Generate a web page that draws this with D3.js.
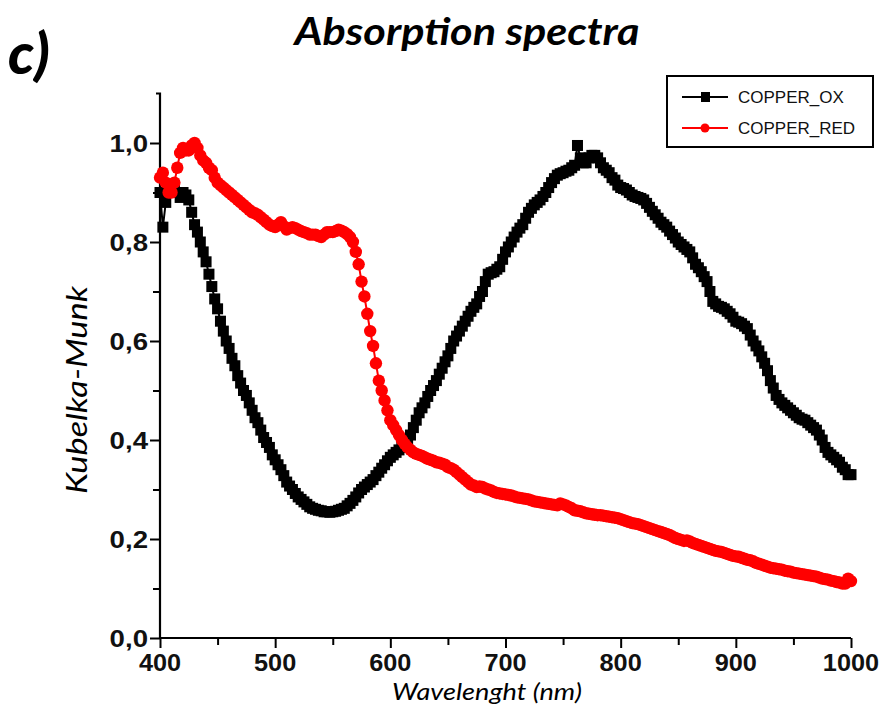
<!DOCTYPE html>
<html><head><meta charset="utf-8">
<script src="https://cdn.jsdelivr.net/npm/d3@7"></script>
<style>body{margin:0;background:#fff}svg{display:block}</style>
</head><body>
<svg id="c" width="882" height="714"></svg>
<script>
const wavelengths = d3.range(400, 1000.1, 2.5);
const copperOx = [
0.90,0.83,0.88,0.90,0.91,0.905,0.90,0.89,0.90,0.895,0.885,0.86,0.835,0.82,0.80,0.78,0.76,0.735,0.71,0.685,
0.665,0.64,0.62,0.60,0.585,0.565,0.55,0.53,0.515,0.50,0.49,0.475,0.46,0.445,0.435,0.42,0.405,0.395,0.385,0.37,
0.36,0.35,0.34,0.328,0.315,0.307,0.30,0.292,0.285,0.28,0.275,0.27,0.265,0.262,0.26,0.258,0.257,0.255,0.255,0.254,
0.255,0.256,0.258,0.26,0.262,0.267,0.272,0.278,0.285,0.293,0.30,0.305,0.31,0.315,0.32,0.328,0.335,0.343,0.35,0.358,
0.365,0.37,0.375,0.38,0.385,0.39,0.395,0.41,0.425,0.44,0.455,0.465,0.475,0.488,0.50,0.51,0.52,0.533,0.545,0.558,
0.57,0.585,0.60,0.61,0.62,0.63,0.64,0.65,0.66,0.668,0.675,0.69,0.70,0.72,0.735,0.738,0.74,0.745,0.75,0.765,
0.78,0.79,0.80,0.81,0.82,0.828,0.835,0.848,0.86,0.868,0.875,0.88,0.885,0.892,0.90,0.91,0.92,0.928,0.935,0.938,
0.94,0.943,0.945,0.95,0.955,0.995,0.97,0.96,0.96,0.97,0.975,0.975,0.97,0.96,0.95,0.945,0.94,0.93,0.925,0.915,
0.91,0.908,0.905,0.90,0.895,0.892,0.89,0.888,0.885,0.878,0.87,0.862,0.855,0.848,0.84,0.835,0.83,0.822,0.815,0.808,
0.80,0.795,0.79,0.785,0.78,0.768,0.755,0.748,0.74,0.73,0.72,0.70,0.68,0.675,0.67,0.668,0.665,0.66,0.655,0.648,
0.64,0.638,0.635,0.63,0.625,0.612,0.60,0.59,0.58,0.568,0.555,0.54,0.52,0.505,0.49,0.482,0.475,0.47,0.465,0.46,
0.455,0.45,0.445,0.442,0.44,0.435,0.43,0.425,0.42,0.41,0.40,0.385,0.375,0.37,0.365,0.36,0.355,0.345,0.34,0.33,
0.33];
const copperRed = [
0.93,0.94,0.92,0.90,0.90,0.92,0.95,0.98,0.99,0.985,0.985,0.995,1.0,0.99,0.975,0.965,0.96,0.95,0.945,0.93,
0.92,0.915,0.91,0.905,0.90,0.895,0.89,0.885,0.88,0.875,0.87,0.865,0.86,0.858,0.855,0.85,0.845,0.84,0.835,0.832,
0.83,0.835,0.84,0.832,0.825,0.828,0.83,0.828,0.825,0.822,0.82,0.818,0.815,0.815,0.815,0.812,0.81,0.815,0.82,0.82,
0.82,0.822,0.825,0.823,0.82,0.816,0.81,0.80,0.78,0.755,0.72,0.69,0.655,0.62,0.59,0.555,0.52,0.50,0.48,0.46,
0.44,0.43,0.42,0.41,0.40,0.392,0.385,0.38,0.375,0.372,0.37,0.368,0.365,0.362,0.36,0.358,0.355,0.354,0.352,0.35,
0.345,0.343,0.34,0.335,0.33,0.325,0.32,0.315,0.31,0.308,0.305,0.306,0.305,0.302,0.30,0.298,0.295,0.293,0.292,0.291,
0.29,0.289,0.288,0.286,0.284,0.283,0.282,0.281,0.28,0.278,0.276,0.275,0.274,0.273,0.272,0.271,0.27,0.269,0.268,0.272,
0.27,0.268,0.265,0.262,0.258,0.257,0.256,0.254,0.252,0.251,0.25,0.249,0.248,0.248,0.247,0.246,0.245,0.244,0.243,0.242,
0.24,0.238,0.236,0.234,0.232,0.231,0.23,0.228,0.226,0.224,0.222,0.22,0.218,0.216,0.214,0.212,0.21,0.208,0.205,0.202,
0.20,0.198,0.196,0.197,0.195,0.192,0.19,0.188,0.186,0.184,0.182,0.18,0.178,0.176,0.175,0.174,0.172,0.17,0.168,0.166,
0.165,0.164,0.162,0.16,0.158,0.157,0.155,0.152,0.15,0.148,0.146,0.144,0.142,0.141,0.14,0.139,0.138,0.136,0.135,0.134,
0.132,0.131,0.13,0.129,0.128,0.127,0.126,0.125,0.124,0.122,0.12,0.119,0.118,0.116,0.115,0.113,0.112,0.11,0.11,0.12,
0.115];
const seriesNames = ["COPPER_OX", "COPPER_RED"];
const seriesColors = ["#000000", "#ff0000"];
const xTicks = [400,500,600,700,800,900,1000];
const yTicks = [0,0.2,0.4,0.6,0.8,1.0];

const svg = d3.select("#c");
const x = d3.scaleLinear().domain([400,1000]).range([160, 851]);
const y = d3.scaleLinear().domain([0,1.1]).range([638, 93.5]);
const fmt = d => d3.format(".1f")(d).replace(".", ",");
const stretch = (sel, k) => sel.each(function(){ const w = this.getComputedTextLength(); d3.select(this).attr("textLength", w*k).attr("lengthAdjust","spacingAndGlyphs"); });

// axes (d3 axes, then restyled)
const xAxis = svg.append("g").attr("transform","translate(0,638)")
  .call(d3.axisBottom(x).tickValues(d3.range(400,1001,50)).tickSizeOuter(0).tickFormat(""));
xAxis.selectAll(".tick line").attr("y2", d => (d % 100 === 0) ? 10 : 7);
const yAxis = svg.append("g").attr("transform","translate(160,0)")
  .call(d3.axisLeft(y).tickValues(d3.range(0,11).map(i=>i/10)).tickSizeOuter(0).tickFormat(""));
yAxis.selectAll(".tick line").attr("x2", (d,i) => i % 2 === 0 ? -10 : -7);
[xAxis, yAxis].forEach(a => a.selectAll(".tick line").attr("stroke","#000").attr("stroke-width",2));
xAxis.select(".domain").attr("stroke","#000").attr("stroke-width",2.2).attr("d","M159,0H851");
yAxis.select(".domain").attr("stroke","#000").attr("stroke-width",2.2).attr("d","M-4,93.5H0V639");

svg.append("g").selectAll("text").data(xTicks).join("text")
  .attr("x", d => x(d)).attr("y", 671).attr("text-anchor","middle")
  .attr("font-family","Liberation Sans, Arial, sans-serif").attr("font-weight","bold").attr("font-size",23)
  .attr("fill","#111").text(d => d).call(stretch, 1.1);
svg.append("g").selectAll("text").data(yTicks).join("text")
  .attr("x", 148).attr("y", d => y(d) + 8.5).attr("text-anchor","end")
  .attr("font-family","Liberation Sans, Arial, sans-serif").attr("font-weight","bold").attr("font-size",24)
  .attr("fill","#111").text(fmt).call(stretch, 1.15);

// series
[copperOx, copperRed].forEach((vals, si) => {
  const pts = wavelengths.map((w,i) => [w, vals[i]]);
  svg.append("path").datum(pts)
    .attr("d", d3.line().x(d=>x(d[0])).y(d=>y(d[1])))
    .attr("fill","none").attr("stroke", seriesColors[si]).attr("stroke-width",2);
  const g = svg.append("g").attr("fill", seriesColors[si]);
  if (si === 0) {
    g.selectAll("rect").data(pts).join("rect")
      .attr("x", d => x(d[0]) - 5.5).attr("y", d => y(d[1]) - 5.5)
      .attr("width", 11).attr("height", 11);
  } else {
    g.selectAll("circle").data(pts).join("circle")
      .attr("cx", d => x(d[0])).attr("cy", d => y(d[1])).attr("r", 6.2);
  }
});

// legend
const lg = svg.append("g");
lg.append("rect").attr("x",667).attr("y",76).attr("width",206).attr("height",71)
  .attr("fill","#fff").attr("stroke","#000").attr("stroke-width",2);
seriesNames.forEach((n, i) => {
  const yy = 97 + i*31;
  lg.append("line").attr("x1",682).attr("x2",728).attr("y1",yy).attr("y2",yy)
    .attr("stroke", seriesColors[i]).attr("stroke-width",2);
  if (i === 0) lg.append("rect").attr("x",701).attr("y",yy-5).attr("width",9).attr("height",10).attr("fill",seriesColors[i]);
  else lg.append("circle").attr("cx",705).attr("cy",yy).attr("r",4.5).attr("fill",seriesColors[i]);
  lg.append("text").attr("x",738).attr("y",yy+6).attr("font-family","Liberation Sans, Arial, sans-serif")
    .attr("font-size",17).attr("fill","#111").text(n);
});

// titles
svg.append("text").attr("x",467).attr("y",45).attr("text-anchor","middle")
  .attr("font-family","Lato, sans-serif").attr("font-weight","bold").attr("font-style","italic")
  .attr("font-size",38).attr("textLength",345).attr("lengthAdjust","spacingAndGlyphs").text("Absorption spectra");
svg.append("text").attr("x",8).attr("y",74)
  .attr("font-family","Lato, sans-serif").attr("font-weight","900").attr("font-style","italic")
  .attr("font-size",58).text("c)");
svg.append("text").attr("x",487).attr("y",700).attr("text-anchor","middle")
  .attr("font-family","Lato, sans-serif").attr("font-style","italic")
  .attr("font-size",24).attr("textLength",190).attr("lengthAdjust","spacingAndGlyphs").text("Wavelenght (nm)");
svg.append("text").attr("transform","translate(87,390) rotate(-90)").attr("text-anchor","middle")
  .attr("font-family","Lato, sans-serif").attr("font-style","italic")
  .attr("font-size",28).attr("textLength",208).attr("lengthAdjust","spacingAndGlyphs").text("Kubelka-Munk");
</script>
</body></html>
